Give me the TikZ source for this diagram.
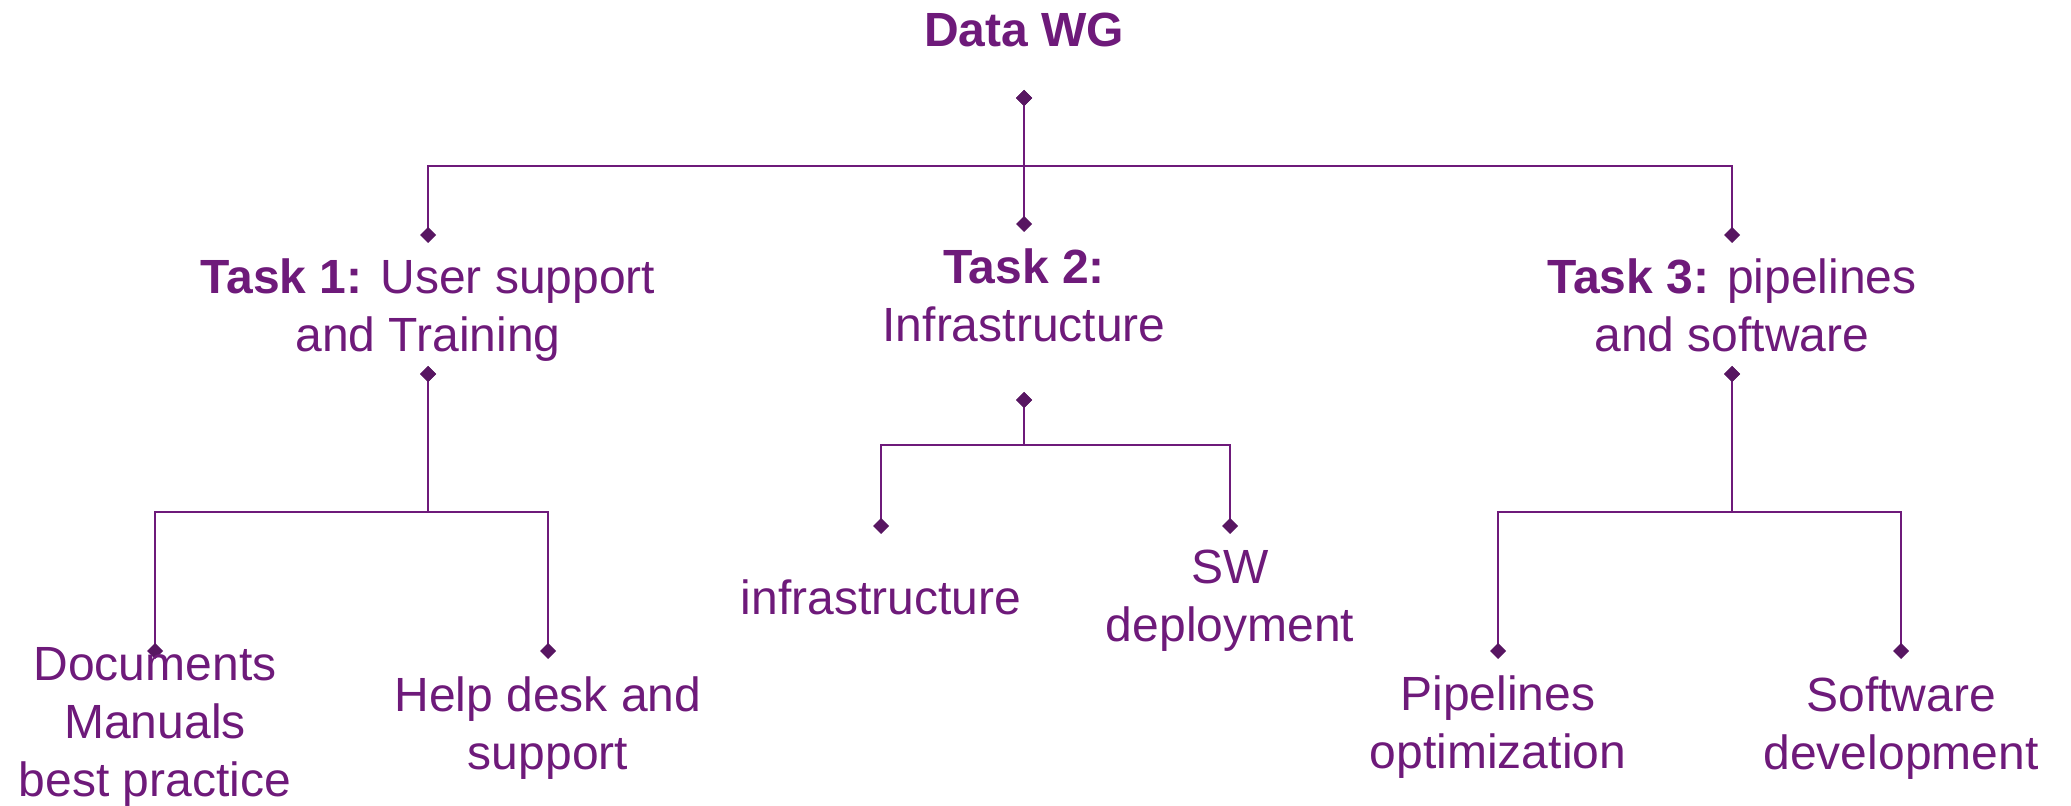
\documentclass[tikz,border=0pt]{standalone}
\usepackage{fontspec}
\setmainfont{Liberation Sans}
\usetikzlibrary{arrows.meta}
\definecolor{wgpurple}{RGB}{110,26,122}
\definecolor{wgdark}{RGB}{88,22,98}
\tikzset{dia/.tip={Diamond[length=8pt 0 0,width=8pt 0 0,color=wgdark]}}
\begin{document}
\begin{tikzpicture}[x=0.5pt,y=-0.5pt,
  lbl/.style={text=wgpurple, align=center, inner sep=0pt, font=\fontsize{24}{29}\selectfont},
  link/.style={draw=wgpurple, line width=1pt, dia-dia}
]
\useasboundingbox (0,0) rectangle (2071,806);
% connector end points
\coordinate (dwg-o) at (1024,90);
\coordinate (bar0) at (1024,166);
\coordinate (t1-i) at (428,243);
\coordinate (t2-i) at (1024,232);
\coordinate (t3-i) at (1732,243);
\coordinate (t1-o) at (428,366);
\coordinate (bar1) at (428,512);
\coordinate (docs-i) at (155,659);
\coordinate (help-i) at (548,659);
\coordinate (t2-o) at (1024,392);
\coordinate (bar2) at (1024,445);
\coordinate (infra-i) at (881,534);
\coordinate (sw-i) at (1230,534);
\coordinate (t3-o) at (1732,366);
\coordinate (bar3) at (1732,512);
\coordinate (pipe-i) at (1498,659);
\coordinate (soft-i) at (1901,659);
% connectors
\draw[link] (dwg-o) -- (bar0) -| (t1-i);
\draw[link] (dwg-o) -- (t2-i);
\draw[link] (dwg-o) -- (bar0) -| (t3-i);
\draw[link] (t1-o) -- (bar1) -| (docs-i);
\draw[link] (t1-o) -- (bar1) -| (help-i);
\draw[link] (t2-o) -- (bar2) -| (infra-i);
\draw[link] (t2-o) -- (bar2) -| (sw-i);
\draw[link] (t3-o) -- (bar3) -| (pipe-i);
\draw[link] (t3-o) -- (bar3) -| (soft-i);
% labels
\node[lbl, font=\fontsize{24}{29}\selectfont\bfseries] (dwg) at (1024,30) {Data WG};
\node[lbl] (t1) at (428,310) {\textbf{Task 1:} User support\\and Training};
\node[lbl] (t2) at (1024,295) {\textbf{Task 2:}\\Infrastructure};
\node[lbl] (t3) at (1732,305) {\textbf{Task 3:} pipelines\\and software};
\node[lbl] (docs) at (155,727) {Documents\\Manuals\\best practice};
\node[lbl] (help) at (548,728) {Help desk and\\support};
\node[lbl] (infra) at (881,597) {infrastructure};
\node[lbl] (sw) at (1230,601) {SW\\deployment};
\node[lbl] (pipe) at (1498,727) {Pipelines\\optimization};
\node[lbl] (soft) at (1901,728) {Software\\development};
\end{tikzpicture}
\end{document}
